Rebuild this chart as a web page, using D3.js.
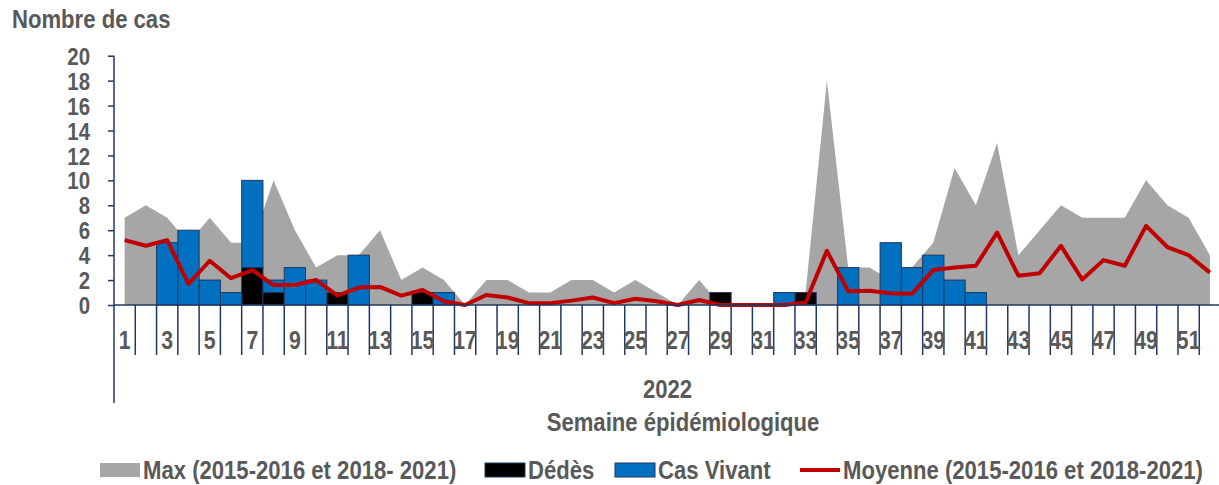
<!DOCTYPE html>
<html>
<head>
<meta charset="utf-8">
<script src="https://cdn.jsdelivr.net/npm/d3@7"></script>
<style>
  body { margin: 0; background: #fff; }
  text { font-family: "Liberation Sans Narrow", "Arial Narrow", "Liberation Sans", sans-serif; font-weight: bold; fill: #595959; }
</style>
</head>
<body>
<div id="chart"></div>
<script>
// semaines épidémiologiques
const weeks = [1,2,3,4,5,6,7,8,9,10,11,12,13,14,15,16,17,18,19,20,21,22,23,24,25,26,
  27,28,29,30,31,32,33,34,35,36,37,38,39,40,41,42,43,44,45,46,47,48,49,50,51,52];

// Max (2015-2016 et 2018-2021)
const maxVals = [7,8,7,5,7,5,5,10,6,3,4,4,6,2,3,2,0,2,2,1,1,2,2,1,2,1,
  0,2,0,0,0,0,1,18,3,3,2,3,5,11,8,13,4,6,8,7,7,7,10,8,7,4];

// Moyenne (2015-2016 et 2018-2021)
const avgVals = [5.2,4.75,5.2,1.7,3.55,2.15,2.8,1.6,1.6,2.0,0.75,1.4,1.45,0.75,1.2,0.3,0,0.8,0.6,0.15,0.15,0.35,0.6,0.15,0.5,0.3,
  0,0.4,0,0,0,0,0.2,4.35,1.1,1.15,0.95,0.9,2.8,3.0,3.15,5.8,2.35,2.55,4.75,2.05,3.6,3.15,6.35,4.65,4.0,2.6];

// Dédès 2022
const deces = [0,0,0,0,0,0,3,1,0,0,1,0,0,0,1,0,0,0,0,0,0,0,0,0,0,0,
  0,0,1,0,0,0,1,0,0,0,0,0,0,0,0,0,0,0,0,0,0,0,0,0,0,0];

// Cas Vivant 2022
const vivant = [0,0,5,6,2,1,7,1,3,2,0,4,0,0,0,1,0,0,0,0,0,0,0,0,0,0,
  0,0,0,0,0,1,0,0,3,0,5,3,4,2,1,0,0,0,0,0,0,0,0,0,0,0];

const yTicks = [0,2,4,6,8,10,12,14,16,18,20];
const xLabels = weeks.filter(w => w % 2 === 1);

const W = 1219, H = 485;
const margin = {left: 114, bottom: 305, top: 55.7};
const step = 21.28;

const x = d3.scaleBand().domain(weeks).range([margin.left, margin.left + weeks.length * step]).padding(0);
const y = d3.scaleLinear().domain([0, 20]).range([margin.bottom, margin.top]);

const svg = d3.select("#chart").append("svg")
    .attr("width", W)
    .attr("height", H);

// police étroite (Arial Narrow) absente : on resserre le texte
function narrow(sel) {
    sel.each(function() {
        const w = this.getComputedTextLength();
        d3.select(this).attr("textLength", w * 0.85).attr("lengthAdjust", "spacingAndGlyphs");
    });
}

const rows = weeks.map((w, i) => ({week: w, max: maxVals[i], avg: avgVals[i], deces: deces[i], vivant: vivant[i]}));

// zone grise du max
const area = d3.area()
    .x(d => x(d.week) + x.bandwidth() / 2)
    .y0(y(0))
    .y1(d => y(d.max));
svg.append("path")
    .datum(rows)
    .attr("fill", "#a6a6a6")
    .attr("d", area);

// barres empilées : décès en bas, vivants au dessus
const stack = d3.stack().keys(["deces", "vivant"])(rows);
const colors = {deces: "#000000", vivant: "#0070c0"};
svg.selectAll("g.serie").data(stack).enter()
    .append("g")
    .attr("class", "serie")
    .attr("fill", d => colors[d.key])
    .selectAll("rect")
    .data(d => d.filter(p => p[1] - p[0] > 0))
    .enter().append("rect")
    .attr("x", d => x(d.data.week))
    .attr("width", x.bandwidth())
    .attr("y", d => y(d[1]))
    .attr("height", d => y(d[0]) - y(d[1]))
    .attr("stroke", "#1f3864")
    .attr("stroke-width", 1);

// ligne de la moyenne
const line = d3.line()
    .x(d => x(d.week) + x.bandwidth() / 2)
    .y(d => y(d.avg));
svg.append("path")
    .datum(rows)
    .attr("fill", "none")
    .attr("stroke", "#c00000")
    .attr("stroke-width", 4)
    .attr("stroke-linejoin", "round")
    .attr("d", line);

// axe Y
const yAxis = svg.append("g")
    .attr("transform", "translate(" + margin.left + ",0)")
    .call(d3.axisLeft(y).tickValues(yTicks).tickSize(6).tickPadding(18));
yAxis.select(".domain").remove();
yAxis.selectAll(".tick line").attr("stroke", "#1f3864").attr("stroke-width", 1.5);
yAxis.selectAll(".tick text").style("font-size", "24px").attr("dy", "0.36em").call(narrow);
svg.append("line")
    .attr("x1", margin.left).attr("x2", margin.left)
    .attr("y1", margin.top).attr("y2", 403)
    .attr("stroke", "#1f3864").attr("stroke-width", 1.5);

// axe X : ligne, séparateurs de semaines et étiquettes
svg.append("line")
    .attr("x1", margin.left).attr("x2", W)
    .attr("y1", margin.bottom).attr("y2", margin.bottom)
    .attr("stroke", "#1f3864").attr("stroke-width", 1.5);
svg.selectAll("line.sep").data(weeks.slice(1)).enter()
    .append("line")
    .attr("class", "sep")
    .attr("x1", d => x(d)).attr("x2", d => x(d))
    .attr("y1", margin.bottom).attr("y2", 355)
    .attr("stroke", "#1f3864").attr("stroke-width", 1.5);
const xAxis = svg.append("g")
    .attr("transform", "translate(0," + margin.bottom + ")")
    .call(d3.axisBottom(x).tickValues(xLabels).tickSize(0).tickPadding(26));
xAxis.select(".domain").remove();
xAxis.selectAll(".tick text").style("font-size", "25px").call(narrow);

svg.append("text")
    .attr("x", (margin.left + W) / 2 + 1).attr("y", 398)
    .attr("text-anchor", "middle")
    .style("font-size", "26px")
    .text("2022")
    .call(narrow);
svg.append("text")
    .attr("x", 683).attr("y", 431)
    .attr("text-anchor", "middle")
    .style("font-size", "26px")
    .text("Semaine épidémiologique")
    .call(narrow);

svg.append("text")
    .attr("x", 12).attr("y", 28)
    .style("font-size", "26px")
    .text("Nombre de cas")
    .call(narrow);

// légende
const legend = [
  {label: "Max (2015-2016 et 2018- 2021)", type: "rect", fill: "#a6a6a6", stroke: "none", x: 100},
  {label: "Dédès", type: "rect", fill: "#000000", stroke: "#1f3864", x: 485},
  {label: "Cas Vivant", type: "rect", fill: "#0070c0", stroke: "#1f3864", x: 615},
  {label: "Moyenne (2015-2016 et 2018-2021)", type: "line", fill: "#c00000", stroke: "none", x: 800}
];
const lg = svg.selectAll("g.legend").data(legend).enter()
    .append("g")
    .attr("class", "legend")
    .attr("transform", d => "translate(" + d.x + ",470)");
lg.filter(d => d.type === "rect").append("rect")
    .attr("x", 0).attr("y", -7)
    .attr("width", 40).attr("height", 14)
    .attr("fill", d => d.fill)
    .attr("stroke", d => d.stroke);
lg.filter(d => d.type === "line").append("line")
    .attr("x1", 0).attr("x2", 40)
    .attr("y1", 0).attr("y2", 0)
    .attr("stroke", d => d.fill)
    .attr("stroke-width", 4);
lg.append("text")
    .attr("x", 43).attr("y", 9)
    .style("font-size", "26px")
    .text(d => d.label)
    .call(narrow);
</script>
</body>
</html>
